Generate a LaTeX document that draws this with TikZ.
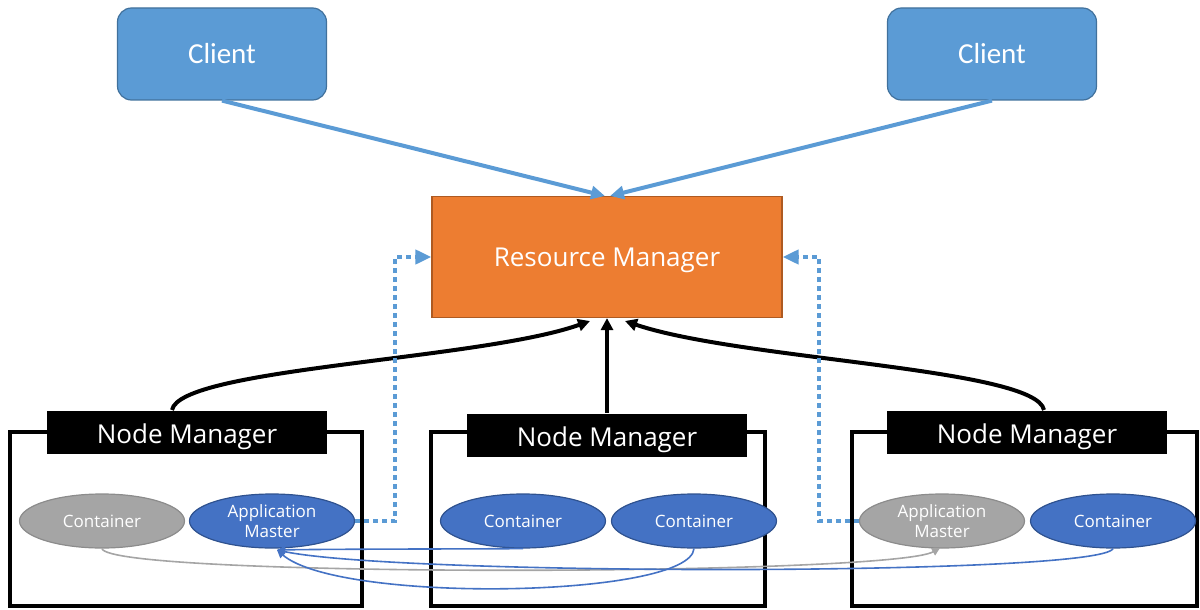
\documentclass[tikz,border=0pt]{standalone}
\usepackage{fontspec}
\setmainfont{Open Sans}
\newfontfamily\clientfont{Carlito}
\usetikzlibrary{arrows.meta,calc,shapes.geometric}
\definecolor{clientblue}{HTML}{5B9BD5}
\definecolor{clientedge}{HTML}{41719C}
\definecolor{rmorange}{HTML}{ED7D31}
\definecolor{rmedge}{HTML}{AE5A21}
\definecolor{ellblue}{HTML}{4472C4}
\definecolor{elledge}{HTML}{2F528F}
\definecolor{ellgray}{HTML}{A5A5A5}
\definecolor{grayedge}{HTML}{8C8C8C}
\tikzset{
  clientbox/.style={draw=clientedge, line width=0.6pt, fill=clientblue, rounded corners=7pt,
    minimum width=104.5pt, minimum height=46pt, inner sep=0pt, text=white,
    font=\clientfont\fontsize{14.5pt}{16pt}\selectfont},
  rmbox/.style={draw=rmedge, line width=0.6pt, fill=rmorange, minimum width=175pt,
    minimum height=60.5pt, inner sep=0pt, text=white, text height=9.4pt, text depth=0pt,
    font=\fontsize{13pt}{15pt}\selectfont},
  nmlabel/.style={fill=black, minimum width=140pt, minimum height=21.5pt, inner sep=0pt,
    text=white, text height=11.5pt, text depth=0pt, font=\fontsize{13pt}{15pt}\selectfont},
  nmframe/.style={draw=black, line width=2pt, inner sep=0pt},
  contell/.style={ellipse, minimum width=82.5pt, minimum height=27pt, inner sep=0pt,
    text=white, align=center, font=\fontsize{8.5pt}{10pt}\selectfont, line width=0.6pt},
  blueell/.style={contell, fill=ellblue, draw=elledge},
  grayell/.style={contell, fill=ellgray, draw=grayedge},
  clientarrow/.style={draw=clientblue, line width=2pt, -{Triangle[length=7pt,width=6.5pt]}},
  nmarrow/.style={draw=black, line width=2pt, -{Triangle[length=6pt,width=6pt]}},
  amdot/.style={draw=clientblue, line width=2.3pt, dash pattern=on 2.3pt off 2.2pt,
    -{Triangle[length=8pt,width=7pt]}},
  bluecurve/.style={draw=ellblue, line width=0.8pt, -{Triangle[length=4pt,width=4pt]}},
  graycurve/.style={draw=ellgray, line width=0.8pt, -{Triangle[length=4pt,width=4pt]}},
}
\begin{document}
\begin{tikzpicture}[x=0.5pt,y=-0.5pt]
\useasboundingbox (0,0) rectangle (1200,610);
% clients and resource manager
\node[clientbox] (cl1) at (222,54) {Client};
\node[clientbox] (cl2) at (992,54) {Client};
\node[rmbox] (rm) at (607,257) {Resource Manager};
% node manager frames
\node[nmframe, minimum width=176pt, minimum height=87pt] (box1) at (186,519) {};
\node[nmframe, minimum width=167pt, minimum height=87pt] (box2) at (598,519) {};
\node[nmframe, minimum width=172.5pt, minimum height=87pt] (box3) at (1024.5,519) {};
\node[nmlabel] (nm1) at (187,432) {Node Manager};
\node[nmlabel] (nm2) at (607,435) {Node Manager};
\node[nmlabel] (nm3) at (1027,432) {Node Manager};
% containers
\node[grayell] (c1) at (102,521) {Container};
\node[blueell] (am1) at (272,521) {Application\\Master};
\node[blueell] (c2a) at (523,521) {Container};
\node[blueell] (c2b) at (694,521) {Container};
\node[grayell] (am3) at (942,521) {Application\\Master};
\node[blueell] (c3) at (1113,521) {Container};
% anchor points
\coordinate (rmin1) at (605,196);
\coordinate (rmin2) at (610,196);
\coordinate (rmb1) at (590,321);
\coordinate (rmb3) at (625,321);
\coordinate (nm1top) at (172,410);
\coordinate (nm3top) at (1044,410);
\coordinate (amtip) at (277,550);
\coordinate (am3tip) at (940,548);
% client arrows
\draw[clientarrow] (cl1.south) -- (rmin1);
\draw[clientarrow] (cl2.south) -- (rmin2);
% node manager heartbeats
\draw[nmarrow] (nm1top) .. controls (180,368) and (480,360) .. (rmb1);
\draw[nmarrow] (nm2.north) -- (rm.south);
\draw[nmarrow] (nm3top) .. controls (1036,368) and (740,360) .. (rmb3);
% application master links
\draw[amdot] (am1.east) -- ++(40,0) |- (rm.west);
\draw[amdot] (am3.west) -- ++(-40,0) |- (rm.east);
% container curves
\draw[graycurve] (c1.south) .. controls (110,578) and (890,576) .. (am3tip);
\draw[bluecurve] (c2a.south) .. controls (480,549) and (330,549) .. (amtip);
\draw[bluecurve] (c2b.south) .. controls (690,598) and (340,604) .. (amtip);
\draw[bluecurve] (c3.south) .. controls (1100,576) and (400,576) .. (amtip);
\end{tikzpicture}
\end{document}
